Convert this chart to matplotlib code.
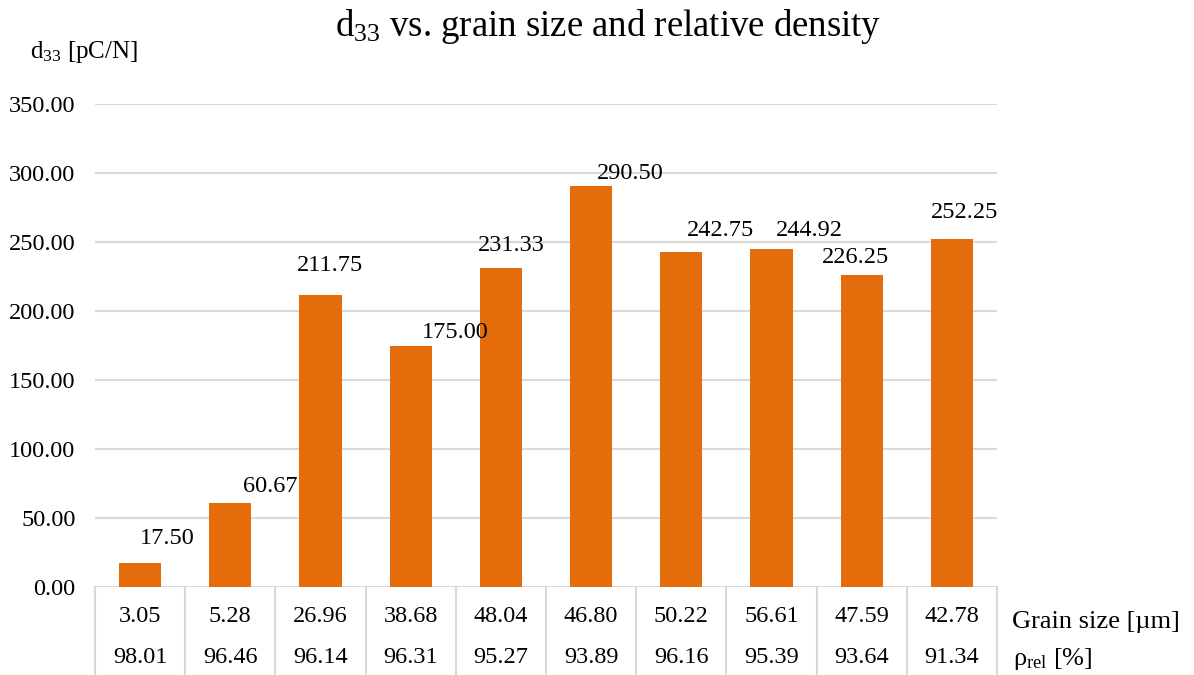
import numpy as np
import matplotlib.pyplot as plt
from matplotlib import transforms

plt.rcParams['font.family'] = ['Liberation Serif', 'DejaVu Serif']
plt.rcParams['mathtext.fontset'] = 'custom'
plt.rcParams['mathtext.rm'] = 'Liberation Serif'
plt.rcParams['mathtext.it'] = 'Liberation Serif:italic'

# data
grain_size = ['3.05', '5.28', '26.96', '38.68', '48.04', '46.80', '50.22', '56.61', '47.59', '42.78']
rel_density = ['98.01', '96.46', '96.14', '96.31', '95.27', '93.89', '96.16', '95.39', '93.64', '91.34']
d33 = [17.50, 60.67, 211.75, 175.00, 231.33, 290.50, 242.75, 244.92, 226.25, 252.25]

# hand placed label offsets (pixels from bar top)
label_dx = [27, 40, 10, 45, 10, 39, 39, 38, -6, 13]
label_dy = [24, 17, 29, 13, 22, 13, 22, 19, 17, 26]

bar_color = '#E46C0A'
grid_color = '#D9D9D9'
fs = 17.5

fig = plt.figure(figsize=(11.94, 6.75), dpi=100)
ax = fig.add_axes([95/1194, 88/675, 902/1194, 483/675])

x = np.arange(len(d33))
ax.bar(x, d33, width=0.47, color=bar_color, zorder=3)
ax.set_xlim(-0.5, len(d33) - 0.5)
ax.set_ylim(0, 350)
ax.set_yticks(np.arange(0, 351, 50))
ax.set_yticklabels(['%.2f' % v for v in np.arange(0, 351, 50)], fontsize=fs)
ax.tick_params(axis='y', length=0, pad=14)
ax.set_xticks([])
ax.grid(axis='y', color=grid_color, linewidth=1.5, zorder=0)
for s in ax.spines.values():
    s.set_visible(False)

for xi, v, dx, dy in zip(x, d33, label_dx, label_dy):
    ax.annotate('%.2f' % v, (xi, v), xytext=(dx, dy), textcoords='offset pixels',
                ha='center', va='center', fontsize=fs, zorder=4)

# category table under the axis
trans = transforms.blended_transform_factory(ax.transData, ax.transAxes)
for b in np.arange(-0.5, len(d33), 1.0):
    ax.plot([b, b], [0, -0.185], transform=trans, color=grid_color, lw=1.5, clip_on=False)
for xi, g, r in zip(x, grain_size, rel_density):
    ax.text(xi, -0.062, g, transform=trans, ha='center', va='center', fontsize=fs)
    ax.text(xi, -0.145, r, transform=trans, ha='center', va='center', fontsize=fs)

fig.text(1012/1194, 1 - 622/675, u'Grain size [\u00b5m]', ha='left', va='center', fontsize=19)
fig.text(1013/1194, 1 - 659/675, u'\u03c1$_{\\mathregular{rel}}$ [%]', ha='left', va='center', fontsize=19)

fig.text(30/1194, 1 - 52/675, r'd$_{\mathregular{33}}$ [pC/N]', ha='left', va='center', fontsize=18)
fig.text(608/1194, 1 - 27/675, r'd$_{\mathregular{33}}$ vs. grain size and relative density',
         ha='center', va='center', fontsize=26.5)

fig.savefig('out.png', dpi=100)
